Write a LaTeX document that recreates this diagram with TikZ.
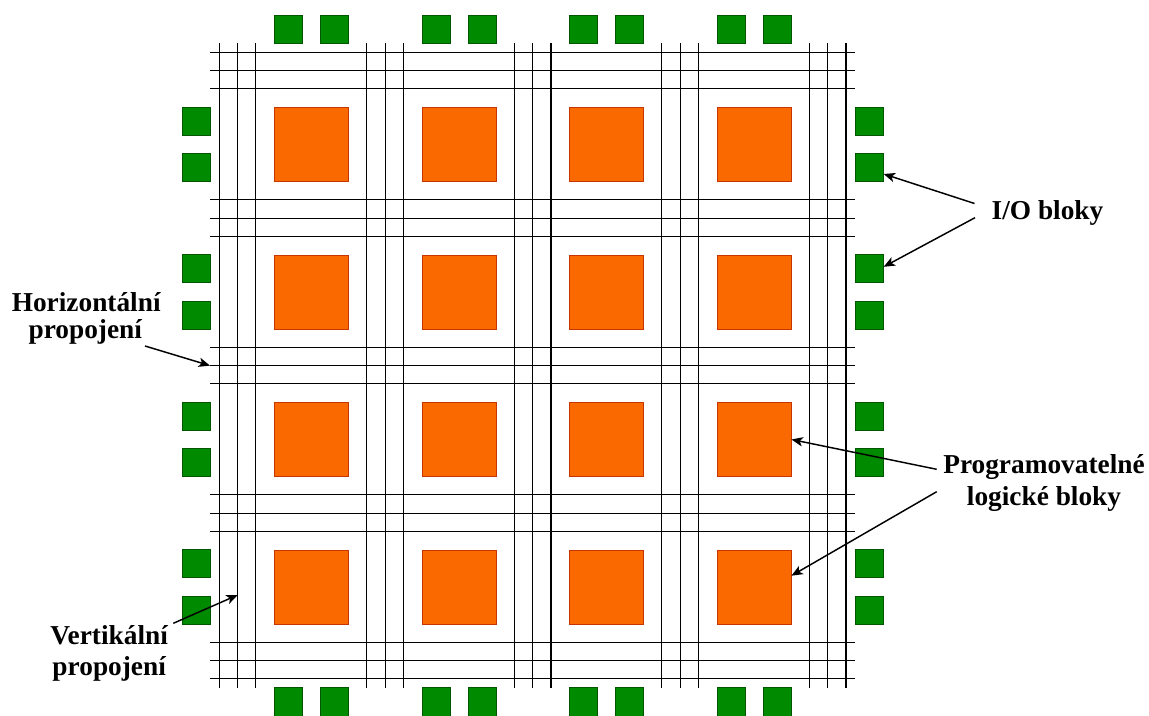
\documentclass[tikz,border=0pt]{standalone}
\usepackage{fontspec}
\setmainfont{Liberation Serif}
\usetikzlibrary{arrows.meta,calc}
\definecolor{plbfill}{HTML}{FA6800}
\definecolor{plbdraw}{HTML}{C73500}
\definecolor{iofill}{HTML}{008A00}
\definecolor{iodraw}{HTML}{005700}
\begin{document}
\begin{tikzpicture}[x=0.75pt,y=-0.75pt,
  plb/.style={draw=plbdraw,fill=plbfill,line width=0.6pt,minimum width=55.6pt,minimum height=55.6pt,inner sep=0pt},
  iob/.style={draw=iodraw,fill=iofill,line width=0.6pt,minimum width=21.1pt,minimum height=21.1pt,inner sep=0pt},
  wire/.style={draw=black,line width=0.8pt},
  lbl/.style={font=\fontsize{20.5}{24}\selectfont\bfseries,inner sep=0pt,anchor=base},
  pointer/.style={draw=black,line width=1.1pt,-{Stealth[length=8.5pt,width=7pt,inset=2.2pt]}}]
\useasboundingbox (0,0) rectangle (1149,716);
\def\P{147.5}
% routing wires
\foreach \k in {0,...,4}{
  \foreach \m in {0,1,2}{
    \draw[wire] ({219.3+\P*\k+18.33*\m},43.3) coordinate (vt-\k-\m) -- ({219.3+\P*\k+18.33*\m},688) coordinate (vb-\k-\m);
    \draw[wire] (210,{52.3+\P*\k+18.33*\m}) coordinate (hl-\k-\m) -- (855,{52.3+\P*\k+18.33*\m}) coordinate (hr-\k-\m);
  }
}
% programmable logic blocks
\foreach \i in {0,...,3}{
  \foreach \j in {0,...,3}{
    \node[plb] (plb-\i-\j) at ({311.5+\P*\i},{144.5+\P*\j}) {};
  }
}
% I/O blocks
\foreach \i in {0,...,3}{
  \node[iob] (io-t-\i-0) at ({288.5+\P*\i},29.2) {};
  \node[iob] (io-t-\i-1) at ({334.5+\P*\i},29.2) {};
  \node[iob] (io-b-\i-0) at ({288.5+\P*\i},701.9) {};
  \node[iob] (io-b-\i-1) at ({334.5+\P*\i},701.9) {};
  \node[iob] (io-l-\i-0) at (196.3,{121.3+\P*\i}) {};
  \node[iob] (io-l-\i-1) at (196.3,{167.5+\P*\i}) {};
  \node[iob] (io-r-\i-0) at (869.2,{121.3+\P*\i}) {};
  \node[iob] (io-r-\i-1) at (869.2,{167.5+\P*\i}) {};
}
% labels
\node[lbl] (io-lbl) at (1047.5,220) {I/O bloky};
\node[lbl] (plb-lbl1) at (1044,473.3) {Programovatelné};
\node[lbl] (plb-lbl2) at (1044,505) {logické bloky};
\node[lbl] (h-lbl1) at (86.2,311.7) {Horizontální};
\node[lbl] (h-lbl2) at (85.3,339) {propojení};
\node[lbl] (v-lbl1) at (109.2,644.3) {Vertikální};
\node[lbl] (v-lbl2) at (109.2,675) {propojení};
% arrow start points
\coordinate (io-s1) at (974.5,203.5);
\coordinate (io-s2) at (975,217.7);
\coordinate (plb-s1) at (936.7,469.3);
\coordinate (plb-s2) at (936.7,491.7);
\coordinate (h-s) at (145,346);
\coordinate (v-s) at (173.3,623.3);
\coordinate (v-e) at ($(vt-0-1)!0.855!(vb-0-1)$);
% pointers
\draw[pointer] (io-s1) -- ($(io-r-0-1.east)+(0,6.5)$);
\draw[pointer] (io-s2) -- ($(io-r-1-0.east)+(0,-2)$);
\draw[pointer] (plb-s1) -- (plb-3-2.east);
\draw[pointer] (plb-s2) -- ($(plb-3-3.east)+(0,-11.3)$);
\draw[pointer] (h-s) -- (hl-2-1);
\draw[pointer] (v-s) -- (237.7,595);
\end{tikzpicture}
\end{document}
